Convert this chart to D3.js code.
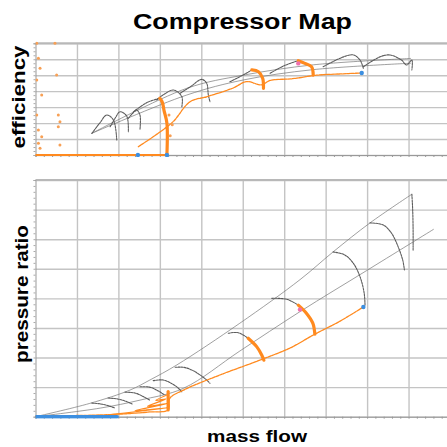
<!DOCTYPE html>
<html>
<head>
<meta charset="utf-8">
<script src="https://cdn.jsdelivr.net/npm/d3@7"></script>
<style>
  body { margin: 0; background: #fff; }
  svg { display: block; font-family: "Liberation Sans", Arial, sans-serif; }
</style>
</head>
<body>
<div id="chart"></div>
<script>
// ---- efficiency panel: [mass flow, efficiency] ----
const effSurge = [[1.36, .136], [3.65, .418], [5.01, .50], [6.7, .565], [9.05, .605]];
const effChoke = [[1.36, .136], [3.65, .376], [5.01, .47], [6.7, .535], [9.05, .575]];
const effSpeedLines = [
  [[1.36, .136], [1.55, .20], [1.72, .251], [1.88, .219], [1.96, .094]],
  [[1.80, .177], [1.92, .23], [2.04, .271], [2.20, .244], [2.24, .146]],
  [[2.24, .230], [2.34, .26], [2.44, .282], [2.52, .251], [2.52, .157]],
  [[2.36, .27], [2.7, .33], [3.0, .355]],
  [[2.92, .345], [3.1, .38], [3.33, .407], [3.53, .365], [3.53, .302]],
  [[3.49, .387], [3.75, .43], [4.01, .474], [4.13, .449], [4.17, .376], [4.21, .334]],
  [[4.69, .459], [5.0, .50], [5.22, .533]],
  [[5.66, .512], [6.0, .56], [6.34, .591]],
  [[6.94, .553], [7.43, .615], [7.67, .627], [7.83, .595], [7.91, .543]],
  [[7.91, .553], [8.31, .615], [8.55, .627], [8.83, .595], [8.95, .564], [9.08, .595], [9.08, .533]]
];
const effOp = [[2.48, .052], [2.9, .125], [3.32, .209], [3.73, .334], [4.13, .365], [4.77, .42],
  [5.09, .46], [5.45, .44], [5.66, .467], [6.2, .478], [6.78, .50], [7.35, .508], [7.87, .514]];
const effOrangeArcs = [
  [[6.34, .591], [6.50, .574], [6.66, .553], [6.70, .501]],
  [[5.22, .533], [5.38, .522], [5.48, .481], [5.50, .418]],
  [[3.0, .355], [3.06, .33], [3.1, .28], [3.17, .20], [3.17, 0]]
];
const effFloor = [[0, 0], [3.17, 0]];
const effScatter = [[0.03, .70], [0.47, .70], [0.07, .606], [0.11, .543], [0.51, .501], [0.03, .47],
  [0.15, .376], [0.03, .251], [0.55, .251], [0.59, .209], [0.55, .177], [0.07, .157],
  [0.15, .115], [0.07, .073], [0.59, .063], [0.11, .042], [3.25, .12], [3.3, .19], [3.22, .25]];
const effBlue = [[7.87, .514], [3.17, 0], [2.47, 0]];
const effPink = [[6.34, .574]];

// ---- pressure ratio panel: [mass flow, pressure ratio] ----
const prSurge = [[0, 1.0], [1.31, 1.45], [2.28, 1.90], [2.76, 2.24], [3.41, 2.75], [4.93, 4.16],
  [6.38, 5.63], [7.18, 6.57], [8.07, 7.55], [9.08, 8.52]];
const prChoke = [[0, 1.0], [1.56, 1.29], [2.52, 1.56], [3.57, 1.96], [4.93, 3.22], [6.38, 4.55],
  [7.99, 5.94], [9.60, 7.33]];
const prSpeedLines = [
  [[9.08, 8.52], [9.10, 7.98], [9.11, 7.30], [9.11, 6.63]],
  [[8.07, 7.55], [8.39, 7.48], [8.59, 7.20], [8.75, 6.74], [8.86, 6.29], [8.90, 5.96]],
  [[7.18, 6.57], [7.47, 6.46], [7.67, 6.18], [7.83, 5.73], [7.93, 5.17], [7.95, 4.77]],
  [[5.70, 5.0], [6.06, 4.97], [6.34, 4.77]],
  [[4.65, 3.82], [4.89, 3.84], [5.13, 3.65]],
  [[3.37, 2.67], [3.57, 2.67], [3.77, 2.58], [3.97, 2.41], [4.13, 2.24], [4.21, 2.13]],
  [[2.84, 2.22], [3.08, 2.24], [3.30, 2.11], [3.44, 1.97], [3.53, 1.84]],
  [[2.52, 2.01], [2.75, 2.0], [2.95, 1.88], [3.12, 1.73]],
  [[2.16, 1.83], [2.4, 1.80], [2.6, 1.68], [2.76, 1.56]],
  [[1.75, 1.63], [1.98, 1.60], [2.18, 1.52], [2.33, 1.43]],
  [[1.36, 1.46], [1.58, 1.43], [1.78, 1.36], [1.92, 1.29]]
];
const prOp = [[0, 1.02], [1.80, 1.07], [2.76, 1.16], [3.20, 1.23], [3.24, 1.62], [3.57, 1.90],
  [4.45, 2.41], [5.30, 2.85], [5.54, 2.98], [6.14, 3.32], [6.74, 3.79], [7.35, 4.23], [7.91, 4.71]];
const prOrangeArcs = [
  [[6.34, 4.77], [6.54, 4.49], [6.69, 4.16], [6.74, 3.79]],
  [[5.13, 3.65], [5.34, 3.36], [5.46, 3.08], [5.51, 2.91]],
  [[3.2, 1.23], [3.2, 1.85]]
];
const prTransient = [[1.8, 1.07], [3.2, 1.3], [2.4, 1.2], [3.2, 1.45], [2.7, 1.35], [3.15, 1.6],
  [2.9, 1.55], [3.2, 1.75]];
const prBlueFloor = [[0, 1.0], [1.97, 1.0]];
const prBlue = [[7.91, 4.71]];
const prPink = [[6.38, 4.62]];

const W = 447, H = 447;
const grey = '#5c5c5c', orange = '#ff8a1f', blue = '#3d8fe0', pink = '#f06fae';

const svg = d3.select('#chart').append('svg')
  .attr('width', W)
  .attr('height', H);

const x = d3.scaleLinear().domain([0, 10]).range([35.5, 450]);
const yEff = d3.scaleLinear().domain([0, 0.7]).range([155, 43.3]);
const yPR = d3.scaleLinear().domain([1, 9]).range([416.7, 180]);

function drawPanel(id, y, minorStep) {
  const [y0, y1] = y.range();
  const g = svg.append('g');

  g.append('clipPath').attr('id', id)
    .append('rect')
    .attr('x', x(0)).attr('y', y1 - 2)
    .attr('width', W - x(0)).attr('height', y0 - y1 + 4);

  // grid
  g.append('g')
    .attr('transform', `translate(0,${y0})`)
    .call(d3.axisBottom(x).tickValues(d3.range(1, 10)).tickSize(-(y0 - y1)).tickFormat(''))
    .call(ax => ax.select('.domain').remove())
    .call(ax => ax.selectAll('line').attr('stroke', '#c4c4c4').attr('stroke-width', 1.4));
  g.append('g')
    .attr('transform', `translate(${x(0)},0)`)
    .call(d3.axisRight(y).ticks(8).tickSize(W - x(0)).tickFormat(''))
    .call(ax => ax.select('.domain').remove())
    .call(ax => ax.selectAll('line').attr('stroke', '#c4c4c4').attr('stroke-width', 1.4));
  g.append('line')
    .attr('x1', x(0)).attr('x2', W).attr('y1', y1).attr('y2', y1)
    .attr('stroke', '#b8b8b8').attr('stroke-width', 2);

  // axes with minor ticks
  g.append('g')
    .attr('transform', `translate(0,${y0})`)
    .call(d3.axisBottom(x).tickValues(d3.range(0, 10.01, 0.2)).tickSize(2).tickFormat(''))
    .call(ax => ax.select('.domain').attr('stroke', '#999'))
    .call(ax => ax.selectAll('line').attr('stroke', '#999'));
  g.append('g')
    .attr('transform', `translate(${x(0)},0)`)
    .call(d3.axisLeft(y).tickValues(d3.range(y.domain()[0], y.domain()[1] + 1e-6, minorStep)).tickSize(2).tickFormat(''))
    .call(ax => ax.select('.domain').attr('stroke', '#999'))
    .call(ax => ax.selectAll('line').attr('stroke', '#aaa'));

  return g.append('g').attr('clip-path', `url(#${id})`);
}

function lines(g, y, data, stroke, width, dash) {
  const line = d3.line().x(d => x(d[0])).y(d => y(d[1])).curve(d3.curveCatmullRom);
  g.append('g').selectAll('path')
    .data(data)
    .join('path')
    .attr('d', line)
    .attr('fill', 'none')
    .attr('stroke', stroke)
    .attr('stroke-width', width)
    .attr('stroke-dasharray', dash || null)
    .attr('stroke-linecap', 'round');
}

function dots(g, y, data, fill, r) {
  g.append('g').selectAll('circle')
    .data(data)
    .join('circle')
    .attr('cx', d => x(d[0]))
    .attr('cy', d => y(d[1]))
    .attr('r', r)
    .attr('fill', fill);
}

// efficiency panel
const gE = drawPanel('clipEff', yEff, 0.025);
lines(gE, yEff, [effSurge, effChoke], '#777', 0.7);
lines(gE, yEff, effSpeedLines, grey, 1.1, '2,1');
lines(gE, yEff, [effFloor], orange, 2.2);
lines(gE, yEff, [effOp], orange, 1.3, '3,1');
lines(gE, yEff, effOrangeArcs, orange, 3.2);
dots(gE, yEff, effScatter, '#f8a055', 1.5);
dots(gE, yEff, effBlue, blue, 2.2);
dots(gE, yEff, effPink, pink, 2.2);

// pressure ratio panel
const gP = drawPanel('clipPR', yPR, 0.2);
lines(gP, yPR, [prSurge, prChoke], '#777', 0.7);
lines(gP, yPR, prSpeedLines, grey, 1.1, '2,1');
lines(gP, yPR, [prTransient], orange, 1.2);
lines(gP, yPR, [prOp], orange, 1.3, '3,1');
lines(gP, yPR, prOrangeArcs, orange, 3.2);
lines(gP, yPR, [prBlueFloor], blue, 3.5);
dots(gP, yPR, prBlue, blue, 2.2);
dots(gP, yPR, prPink, pink, 2.2);

// titles
svg.append('text')
  .attr('x', 242.5).attr('y', 28.5)
  .attr('text-anchor', 'middle')
  .attr('font-size', '22.5px').attr('font-weight', 'bold')
  .attr('textLength', 219).attr('lengthAdjust', 'spacingAndGlyphs')
  .text('Compressor Map');

svg.append('text')
  .attr('transform', 'translate(25,97) rotate(-90)')
  .attr('text-anchor', 'middle')
  .attr('font-size', '17.5px').attr('font-weight', 'bold')
  .attr('textLength', 103).attr('lengthAdjust', 'spacingAndGlyphs')
  .text('efficiency');

svg.append('text')
  .attr('transform', 'translate(28,294) rotate(-90)')
  .attr('text-anchor', 'middle')
  .attr('font-size', '18px').attr('font-weight', 'bold')
  .attr('textLength', 138).attr('lengthAdjust', 'spacingAndGlyphs')
  .text('pressure ratio');

svg.append('text')
  .attr('x', 257).attr('y', 441.5)
  .attr('text-anchor', 'middle')
  .attr('font-size', '17px').attr('font-weight', 'bold')
  .attr('textLength', 100).attr('lengthAdjust', 'spacingAndGlyphs')
  .text('mass flow');
</script>
</body>
</html>
